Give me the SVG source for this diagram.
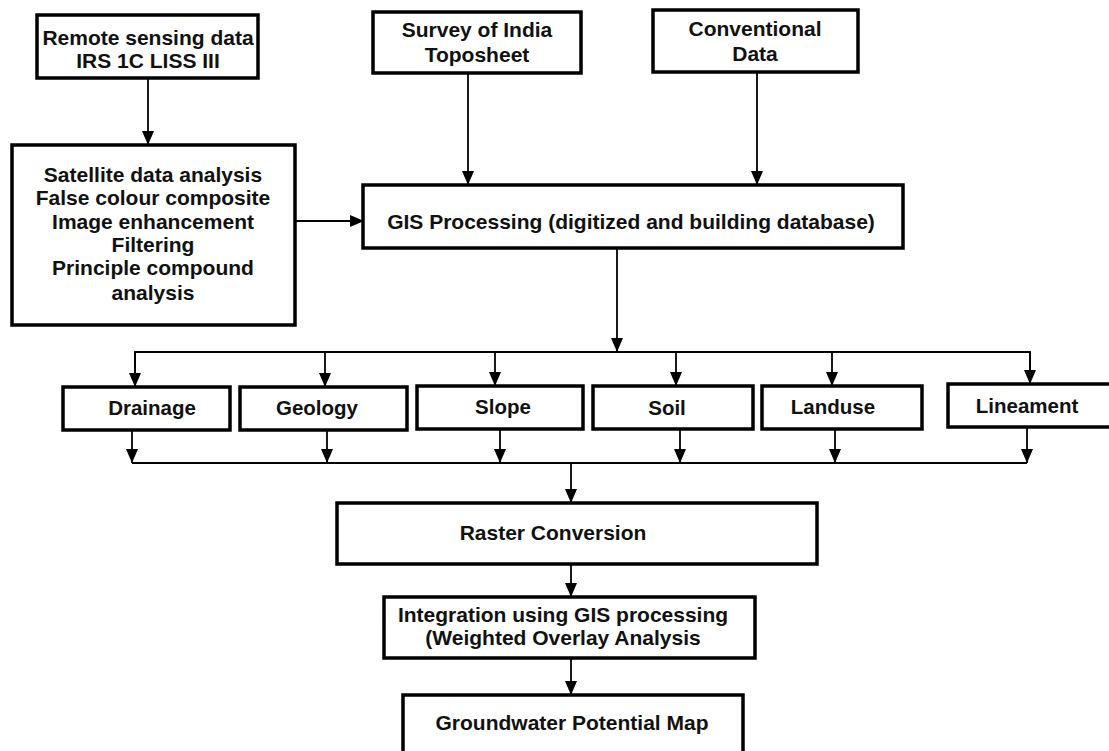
<svg xmlns="http://www.w3.org/2000/svg" width="1109" height="751" viewBox="0 0 1109 751">
<defs>
<marker id="ah" viewBox="0 0 14 12" refX="14" refY="6" markerWidth="14" markerHeight="12" markerUnits="userSpaceOnUse" orient="auto">
<path d="M0,0 L14,6 L0,12 Z" fill="#000"/>
</marker>
</defs>
<style>
.box{fill:#fff;stroke:#000;stroke-width:3.5}
.t{font-family:"Liberation Sans",Arial,sans-serif;font-weight:bold;font-size:21px;fill:#111;text-anchor:middle}
.s{font-size:20.5px}
.c{fill:none;stroke:#000;stroke-width:1.8}
.a{fill:none;stroke:#000;stroke-width:1.8;marker-end:url(#ah)}
</style>
<rect width="1109" height="751" fill="#fff"/>
<g id="connectors">
<line class="a" x1="148" y1="78" x2="148" y2="145"/>
<line class="a" x1="295" y1="221" x2="364" y2="221"/>
<line class="a" x1="468" y1="73" x2="468" y2="185"/>
<line class="a" x1="757" y1="72" x2="757" y2="185"/>
<line class="a" x1="617" y1="248" x2="617" y2="352"/>
<polyline class="c" points="135,386 135,352 1030,352 1030,384"/>
<line class="a" x1="135" y1="352" x2="135" y2="387"/>
<line class="a" x1="325" y1="352" x2="325" y2="387"/>
<line class="a" x1="495" y1="352" x2="495" y2="386"/>
<line class="a" x1="676" y1="352" x2="676" y2="386"/>
<line class="a" x1="832" y1="352" x2="832" y2="386"/>
<line class="a" x1="1030" y1="352" x2="1030" y2="384"/>
<line class="c" x1="132" y1="463" x2="1027" y2="463"/>
<line class="a" x1="132" y1="430" x2="132" y2="463"/>
<line class="a" x1="327" y1="430" x2="327" y2="463"/>
<line class="a" x1="500" y1="429" x2="500" y2="463"/>
<line class="a" x1="680" y1="430" x2="680" y2="463"/>
<line class="a" x1="835" y1="429" x2="835" y2="463"/>
<line class="a" x1="1027" y1="428" x2="1027" y2="463"/>
<line class="a" x1="571" y1="463" x2="571" y2="503"/>
<line class="a" x1="571" y1="564" x2="571" y2="597"/>
<line class="a" x1="571" y1="658" x2="571" y2="695"/>
</g>
<g id="remote">
<rect class="box" x="37" y="15" width="221" height="63"/>
<text class="t" x="148" y="45">Remote sensing data</text>
<text class="t" x="148" y="68">IRS 1C LISS III</text>
</g>
<g id="satellite">
<rect class="box" x="12" y="145" width="283" height="180"/>
<text class="t" x="153" y="182">Satellite data analysis</text>
<text class="t" x="153" y="205">False colour composite</text>
<text class="t" x="153" y="229">Image enhancement</text>
<text class="t" x="153" y="252">Filtering</text>
<text class="t" x="153" y="275">Principle compound</text>
<text class="t" x="153" y="300">analysis</text>
</g>
<g id="survey">
<rect class="box" x="373" y="12" width="208" height="61"/>
<text class="t" x="477" y="37">Survey of India</text>
<text class="t" x="477" y="62">Toposheet</text>
</g>
<g id="conventional">
<rect class="box" x="653" y="10" width="205" height="62"/>
<text class="t" x="755" y="36">Conventional</text>
<text class="t" x="755" y="61">Data</text>
</g>
<g id="gis">
<rect class="box" x="363" y="185" width="540" height="63"/>
<text class="t" x="631" y="229">GIS Processing (digitized and building database)</text>
</g>
<g id="drainage">
<rect class="box" x="63" y="387" width="167" height="43"/>
<text class="t s" x="152" y="415">Drainage</text>
</g>
<g id="geology">
<rect class="box" x="240" y="387" width="167" height="43"/>
<text class="t s" x="317" y="415">Geology</text>
</g>
<g id="slope">
<rect class="box" x="417" y="386" width="166" height="43"/>
<text class="t s" x="503" y="414">Slope</text>
</g>
<g id="soil">
<rect class="box" x="593" y="386" width="160" height="43"/>
<text class="t s" x="667" y="415">Soil</text>
</g>
<g id="landuse">
<rect class="box" x="762" y="386" width="160" height="43"/>
<text class="t s" x="833" y="414">Landuse</text>
</g>
<g id="lineament">
<rect class="box" x="948" y="384" width="170" height="43"/>
<text class="t s" x="1027" y="413">Lineament</text>
</g>
<g id="raster">
<rect class="box" x="337" y="503" width="480" height="61"/>
<text class="t" x="553" y="540">Raster Conversion</text>
</g>
<g id="integration">
<rect class="box" x="384" y="597" width="371" height="61"/>
<text class="t" x="563" y="622">Integration using GIS processing</text>
<text class="t" x="563" y="645">(Weighted Overlay Analysis</text>
</g>
<g id="groundwater">
<rect class="box" x="403" y="695" width="340" height="70"/>
<text class="t" x="572" y="730">Groundwater Potential Map</text>
</g>
</svg>
